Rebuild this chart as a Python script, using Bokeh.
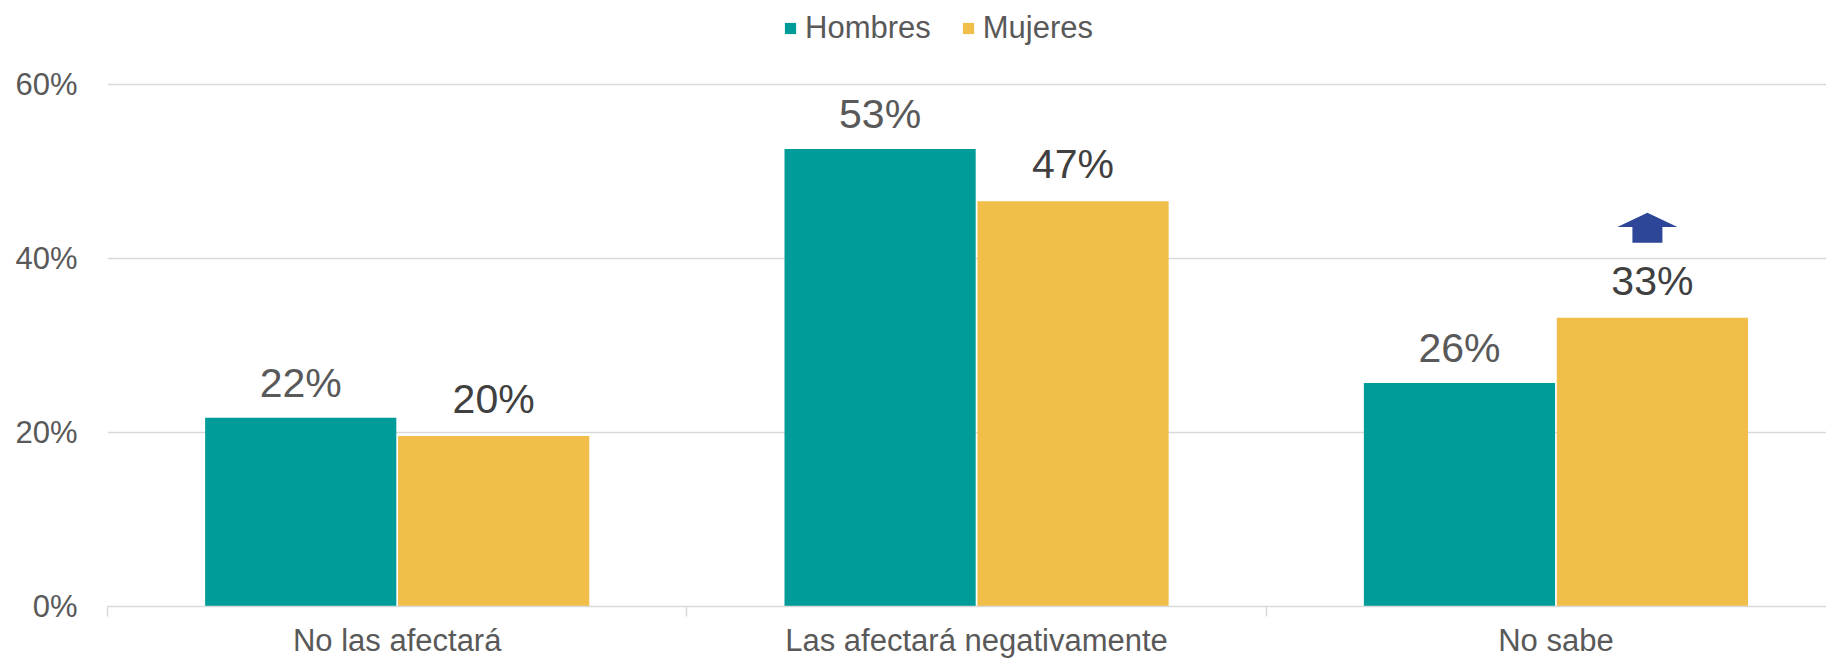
import numpy as np
from bokeh.plotting import figure
from bokeh.models import (ColumnDataSource, Range1d, FixedTicker, PrintfTickFormatter,
                          Legend, LegendItem)
from bokeh.core.properties import value
from bokeh.embed import file_html
from bokeh.resources import INLINE

# ---- data ----
categories = ["No las afectará", "Las afectará negativamente", "No sabe"]
series = ["Hombres", "Mujeres"]
hombres = [21.7, 52.6, 25.7]
mujeres = [19.6, 46.6, 33.2]
y_ticks = [0, 20, 40, 60]
arrow_category = "No sabe"   # significant increase marker (Mujeres)

# ---- style ----
FONT = "Liberation Sans"
C_H = "#009C9A"
C_M = "#F1BE4A"
C_ARROW = "#2E4698"
GRID = "#D9D9D9"

n = len(categories)
centers = np.arange(n) + 0.5
off = 0.1665
bw = 0.33

# frame spans the full height above the axis; the legend sits in its empty top strip
p = figure(width=1826, height=661, output_backend="svg", toolbar_location=None,
           x_range=Range1d(0, 2.967), y_range=Range1d(0, 69.69),
           min_border_left=107, min_border_right=0, min_border_top=0, min_border_bottom=55)
p.outline_line_color = None
p.background_fill_color = "white"
p.border_fill_color = "white"

src_h = ColumnDataSource(dict(x=centers - off, top=hombres,
                              lab=[f"{round(v)}%" for v in hombres]))
src_m = ColumnDataSource(dict(x=centers + off, top=mujeres,
                              lab=[f"{round(v)}%" for v in mujeres]))

rh = p.vbar(x="x", top="top", width=bw, bottom=0, source=src_h, fill_color=C_H, line_color=None)
rm = p.vbar(x="x", top="top", width=bw, bottom=0, source=src_m, fill_color=C_M, line_color=None)

p.text(x="x", y="top", text="lab", source=src_h, text_align="center", text_baseline="alphabetic",
       y_offset=-35, text_font=value(FONT), text_font_size="41px", text_color="#595959")
p.text(x="x", y="top", text="lab", source=src_m, text_align="center", text_baseline="alphabetic",
       y_offset=-37, text_font=value(FONT), text_font_size="41px", text_color="#404040")

# arrow marker above the Mujeres "No sabe" bar
ai = categories.index(arrow_category)
ax = centers[ai] + off - 0.0086
av = mujeres[ai]
p.patch(x=[ax - 0.0518, ax, ax + 0.0518, ax + 0.0259, ax + 0.0259, ax - 0.0259, ax - 0.0259],
        y=[av + 10.43, av + 12.07, av + 10.43, av + 10.43, av + 8.62, av + 8.62, av + 10.43],
        fill_color=C_ARROW, line_color=None)

# ---- axes ----
yax = p.yaxis[0]
yax.ticker = FixedTicker(ticks=y_ticks)
yax.formatter = PrintfTickFormatter(format="%d%%")
yax.axis_line_color = None
yax.major_tick_line_color = None
yax.minor_tick_line_color = None
yax.major_tick_out = 0
yax.major_tick_in = 0
yax.major_label_standoff = 30
yax.major_label_text_font = FONT
yax.major_label_text_font_size = "31px"
yax.major_label_text_color = "#595959"

xax = p.xaxis[0]
xax.ticker = FixedTicker(ticks=list(centers), minor_ticks=list(range(n + 1)))
xax.major_label_overrides = {float(c): cat for c, cat in zip(centers, categories)}
xax.axis_line_color = GRID
xax.axis_line_width = 1.5
xax.major_tick_line_color = None
xax.major_tick_out = 0
xax.major_tick_in = 0
xax.minor_tick_line_color = GRID
xax.minor_tick_line_width = 1.5
xax.minor_tick_out = 10
xax.minor_tick_in = 0
xax.major_label_standoff = 6
xax.major_label_text_font = FONT
xax.major_label_text_font_size = "31px"
xax.major_label_text_color = "#595959"

p.xgrid.grid_line_color = None
p.ygrid.grid_line_color = GRID
p.ygrid.grid_line_width = 1.5
p.ygrid.ticker = FixedTicker(ticks=y_ticks)

legend = Legend(items=[LegendItem(label=series[0], renderers=[rh]),
                       LegendItem(label=series[1], renderers=[rm])],
                orientation="horizontal", location=(676, 560),
                label_text_font=FONT, label_text_font_size="31px", label_text_color="#595959",
                glyph_width=14, glyph_height=14, label_standoff=8, spacing=30,
                padding=0, margin=0, border_line_color=None, background_fill_alpha=0)
p.add_layout(legend, "center")

open("out.html", "w").write(file_html(p, INLINE))
